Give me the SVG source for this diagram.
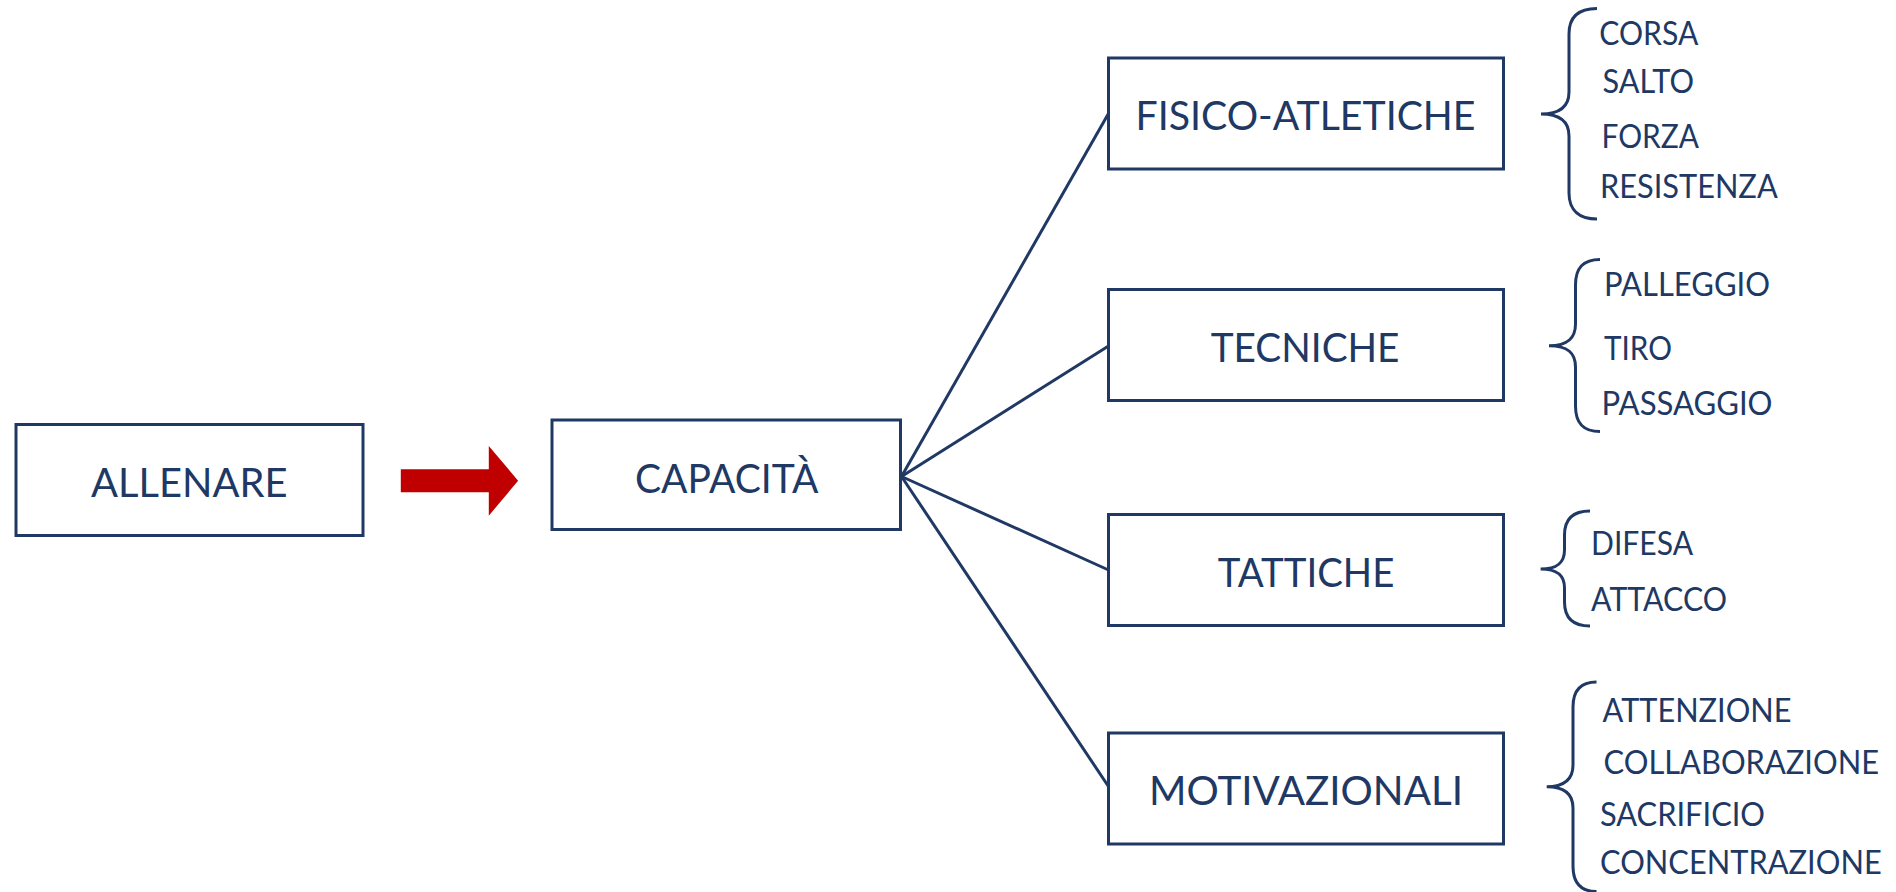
<svg xmlns="http://www.w3.org/2000/svg" width="1896" height="892" viewBox="0 0 1896 892">
<style>
.box{fill:#fff;stroke:#203864;stroke-width:3}
.big{font-family:Lato,"Open Sans","Liberation Sans",sans-serif;font-size:40px;fill:#203864}
.small{font-family:Lato,"Open Sans","Liberation Sans",sans-serif;font-size:33px;fill:#203864}
.conn{stroke:#203864;stroke-width:3;fill:none}
.brace{stroke:#203864;stroke-width:3;fill:none}
</style>
<rect width="1896" height="892" fill="#fff"/>
<g id="connectors">
<line class="conn" x1="901.5" y1="476.5" x2="1108.5" y2="113.5"/>
<line class="conn" x1="901.5" y1="476.5" x2="1108.5" y2="346"/>
<line class="conn" x1="901.5" y1="476.5" x2="1108.5" y2="570"/>
<line class="conn" x1="901.5" y1="476.5" x2="1108.5" y2="786.5"/>
<polygon id="arrow" fill="#C00000" points="400.8,469.3 488.8,469.3 488.8,446 518.1,480.7 488.8,515.7 488.8,492.3 400.8,492.3"/>
</g>
<g id="allenare">
<rect class="box" x="16" y="424.5" width="347" height="111"/>
<text class="big" x="91" y="496.7" textLength="196.5" lengthAdjust="spacingAndGlyphs">ALLENARE</text>
</g>
<g id="capacita">
<rect class="box" x="552" y="420" width="348.5" height="109.5"/>
<text class="big" x="635" y="493" textLength="183.5" lengthAdjust="spacingAndGlyphs">CAPACITÀ</text>
</g>
<g id="fisico">
<rect class="box" x="1108.5" y="58" width="395" height="111"/>
<text class="big" x="1135.5" y="130" textLength="340" lengthAdjust="spacingAndGlyphs">FISICO-ATLETICHE</text>
</g>
<g id="tecniche">
<rect class="box" x="1108.5" y="289.5" width="395" height="111"/>
<text class="big" x="1210.7" y="361.7" textLength="188.8" lengthAdjust="spacingAndGlyphs">TECNICHE</text>
</g>
<g id="tattiche">
<rect class="box" x="1108.5" y="514.5" width="395" height="111"/>
<text class="big" x="1217.8" y="587.3" textLength="176.6" lengthAdjust="spacingAndGlyphs">TATTICHE</text>
</g>
<g id="motivazionali">
<rect class="box" x="1108.5" y="733" width="395" height="111"/>
<text class="big" x="1149" y="805" textLength="314" lengthAdjust="spacingAndGlyphs">MOTIVAZIONALI</text>
</g>
<g id="fisico-list">
<path class="brace" d="M1597,8.5 C1580,8.5 1569,16 1569,34 L1569,92 C1569,106 1561,114 1541,114 C1561,114 1569,122 1569,136 L1569,193 C1569,211 1580,219 1597,219"/>
<text class="small" x="1599.3" y="45" textLength="99" lengthAdjust="spacingAndGlyphs">CORSA</text>
<text class="small" x="1602.5" y="93.3" textLength="91.5" lengthAdjust="spacingAndGlyphs">SALTO</text>
<text class="small" x="1601.5" y="148.3" textLength="97.5" lengthAdjust="spacingAndGlyphs">FORZA</text>
<text class="small" x="1600" y="198.3" textLength="177.7" lengthAdjust="spacingAndGlyphs">RESISTENZA</text>
</g>
<g id="tecniche-list">
<path class="brace" d="M1600,259.5 C1584,259.5 1575.5,267 1575.5,285 L1575.5,324 C1575.5,338 1568,345.7 1549,345.7 C1568,345.7 1575.5,353 1575.5,367 L1575.5,406 C1575.5,424 1584,431.5 1600,431.5"/>
<text class="small" x="1604" y="295.7" textLength="166" lengthAdjust="spacingAndGlyphs">PALLEGGIO</text>
<text class="small" x="1604" y="360" textLength="68" lengthAdjust="spacingAndGlyphs">TIRO</text>
<text class="small" x="1601.5" y="415" textLength="171" lengthAdjust="spacingAndGlyphs">PASSAGGIO</text>
</g>
<g id="tattiche-list">
<path class="brace" d="M1590,511 C1574,511 1564.5,518 1564.5,535 L1564.5,550 C1564.5,563 1557,569 1540.6,569 C1557,569 1564.5,575 1564.5,588 L1564.5,602 C1564.5,619 1574,626 1590,626"/>
<text class="small" x="1591" y="555" textLength="102" lengthAdjust="spacingAndGlyphs">DIFESA</text>
<text class="small" x="1591" y="610.7" textLength="136" lengthAdjust="spacingAndGlyphs">ATTACCO</text>
</g>
<g id="motivazionali-list">
<path class="brace" d="M1596.5,682 C1581,682 1573,690 1573,707 L1573,765 C1573,779 1565,786.7 1546.7,786.7 C1565,786.7 1573,794 1573,808 L1573,866 C1573,883 1581,891.5 1596.5,891.5"/>
<text class="small" x="1602.5" y="721.7" textLength="189" lengthAdjust="spacingAndGlyphs">ATTENZIONE</text>
<text class="small" x="1603.6" y="774" textLength="275.4" lengthAdjust="spacingAndGlyphs">COLLABORAZIONE</text>
<text class="small" x="1600" y="825.7" textLength="165" lengthAdjust="spacingAndGlyphs">SACRIFICIO</text>
<text class="small" x="1600" y="874" textLength="281.7" lengthAdjust="spacingAndGlyphs">CONCENTRAZIONE</text>
</g>
</svg>
